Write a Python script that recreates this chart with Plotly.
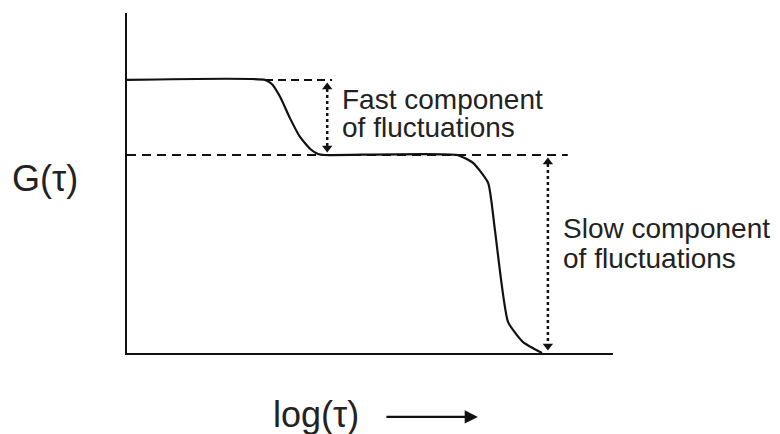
import plotly.graph_objects as go

# ---- data (schematic values) ----
log_tau = [0.0, 2.84, 2.98, 3.15, 3.35, 3.56, 3.77, 3.93, 4.07,
           6.79, 7.12, 7.43, 7.57, 7.84, 8.15, 8.54]
G_tau = [1.0, 1.0, 0.985, 0.938, 0.861, 0.791, 0.747, 0.729, 0.725,
         0.725, 0.696, 0.623, 0.451, 0.114, 0.040, 0.0]

plateau_levels = [1.0, 0.725, 0.0]          # G at the two plateaus and baseline
fast_dash_x = [2.84, 4.22]                  # extent of upper dashed guide
slow_dash_x = [0.0, 9.07]                   # extent of lower dashed guide
arrow_x = [4.12, 8.66]                      # positions of the fast / slow arrows

fast_label = ["Fast component", "of fluctuations"]
slow_label = ["Slow component", "of fluctuations"]
fast_label_pos = [4.38, [0.930, 0.824]]
slow_label_pos = [8.93, [0.455, 0.346]]

x_range = [0, 10]
y_range = [0, 1.245]

FONT = "Liberation Sans, Arial, Helvetica, sans-serif"
BLACK = "#111111"
TEXT = "#222222"

fig = go.Figure()

# dashed guide lines
fig.add_trace(go.Scatter(x=fast_dash_x, y=[plateau_levels[0]] * 2, mode="lines",
                         line=dict(color=BLACK, width=2, dash="8px,5px"),
                         hoverinfo="skip", showlegend=False))
fig.add_trace(go.Scatter(x=slow_dash_x, y=[plateau_levels[1]] * 2, mode="lines",
                         line=dict(color=BLACK, width=2, dash="9px,6px"),
                         hoverinfo="skip", showlegend=False))

# the correlation curve
fig.add_trace(go.Scatter(x=log_tau, y=G_tau, mode="lines",
                         line=dict(color=BLACK, width=2.2, shape="spline", smoothing=0.5),
                         hoverinfo="skip", showlegend=False))

# dotted double-headed arrows
px_y = (y_range[1] - y_range[0]) / 340.0   # data units per pixel (vertical)
segments = [(arrow_x[0], plateau_levels[0], plateau_levels[1]),
            (arrow_x[1], plateau_levels[1], plateau_levels[2])]
for ax_, top, bot in segments:
    top_tip = top - 2 * px_y
    bot_tip = bot + 2 * px_y
    fig.add_trace(go.Scatter(x=[ax_, ax_], y=[top_tip - 7 * px_y, bot_tip + 7 * px_y],
                             mode="lines",
                             line=dict(color=BLACK, width=2.5, dash="3px,3px"),
                             hoverinfo="skip", showlegend=False))
    fig.add_trace(go.Scatter(x=[ax_, ax_], y=[top_tip - 5 * px_y, bot_tip + 5 * px_y],
                             mode="markers",
                             marker=dict(symbol=["triangle-up", "triangle-down"], size=9,
                                         color=BLACK, line=dict(width=0)),
                             hoverinfo="skip", showlegend=False))

# labels next to the arrows (data coordinates, inside the axis range)
for i, t in enumerate(fast_label):
    fig.add_annotation(x=fast_label_pos[0], y=fast_label_pos[1][i], text=t,
                       showarrow=False, xanchor="left", yanchor="middle",
                       font=dict(family=FONT, size=28, color=TEXT))
for i, t in enumerate(slow_label):
    fig.add_annotation(x=slow_label_pos[0], y=slow_label_pos[1][i], text=t,
                       showarrow=False, xanchor="left", yanchor="middle",
                       font=dict(family=FONT, size=28, color=TEXT))

# axis titles (paper coordinates, outside the plot area)
fig.add_annotation(xref="paper", yref="paper", x=-0.240, y=0.512, text="G(τ)",
                   showarrow=False, xanchor="left", yanchor="middle",
                   font=dict(family=FONT, size=36, color=TEXT))
fig.add_annotation(xref="paper", yref="paper", x=0.297, y=-0.180, text="log(τ)",
                   showarrow=False, xanchor="left", yanchor="middle",
                   font=dict(family=FONT, size=36, color=TEXT))
# arrow after log(tau)
fig.add_annotation(xref="paper", yref="paper", axref="pixel", ayref="pixel",
                   x=0.722, y=-0.188, ax=-93, ay=0, text="",
                   showarrow=True, arrowhead=2, arrowsize=1.2, arrowwidth=2.2,
                   arrowcolor=BLACK)

fig.update_xaxes(range=x_range, showgrid=False, zeroline=False, showticklabels=False,
                 ticks="", showline=True, linecolor=BLACK, linewidth=2)
fig.update_yaxes(range=y_range, showgrid=False, zeroline=False, showticklabels=False,
                 ticks="", showline=True, linecolor=BLACK, linewidth=2)

# margins compensate for the page's default 8px body margin
fig.update_layout(width=780, height=434,
                  margin=dict(l=119, r=175, t=5, b=89),
                  paper_bgcolor="white", plot_bgcolor="white",
                  showlegend=False)

fig.write_html("out.html")
